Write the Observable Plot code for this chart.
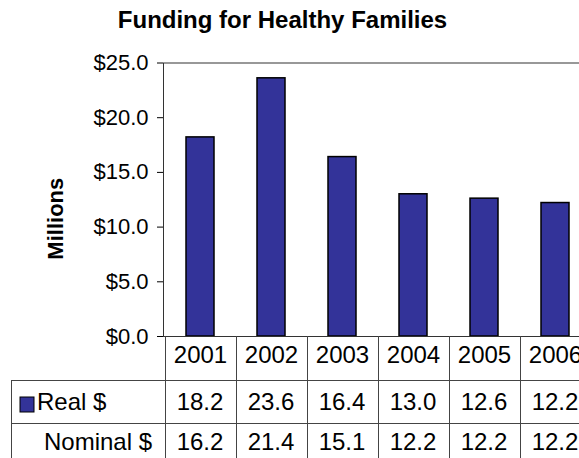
<!DOCTYPE html>
<html><head><meta charset="utf-8">
<script src="https://cdn.jsdelivr.net/npm/d3@7"></script>
<script src="https://cdn.jsdelivr.net/npm/@observablehq/plot@0.6"></script>
<style>
html,body{margin:0;padding:0;background:#fff;overflow:hidden;}
#wrap{position:relative;width:579px;height:458px;overflow:hidden;background:#fff;}
</style></head><body><div id="wrap"></div>
<script>
const title = "Funding for Healthy Families";
const yLabel = "Millions";
const years = ["2001", "2002", "2003", "2004", "2005", "2006"];
const realValues = [18.2, 23.6, 16.4, 13.0, 12.6, 12.2];
const nominalValues = [16.2, 21.4, 15.1, 12.2, 12.2, 12.2];
const seriesNames = ["Real $", "Nominal $"];
const yTicks = [0, 5, 10, 15, 20, 25];

const barColor = "#333399";
const font = "'Liberation Sans', Arial, Helvetica, sans-serif";
const data = years.map((y, i) => ({year: y, real: realValues[i]}));

const chart = Plot.plot({
  width: 592, height: 458,
  marginLeft: 163, marginRight: 0, marginTop: 62.5, marginBottom: 122,
  style: {fontFamily: font, maxWidth: "none", background: "#fff", color: "#000", overflow: "visible"},
  x: {domain: years, paddingInner: 0.6, paddingOuter: 0.3},
  y: {domain: [0, 25]},
  marks: [
    Plot.barY(data, {x: "year", y: "real", fill: barColor, stroke: "#000", strokeWidth: 1.5}),
    Plot.frame({stroke: "#333"}),
    Plot.axisY({ticks: yTicks, tickFormat: d => "$" + d.toFixed(1), tickSize: 6, tickPadding: 9, fontSize: 22, label: null}),
    Plot.axisX({tickSize: 0, tickPadding: 9, fontSize: 24, label: null})
  ]
});
document.getElementById("wrap").appendChild(chart);

// data table below the plot, positioned with Plot's own scales
const xs = chart.scale("x");
const ys = chart.scale("y");
const step = xs.step, bw = xs.bandwidth;
const left = v => xs.apply(v) + bw / 2 - step / 2;
const bounds = years.map(left).concat(left(years[years.length - 1]) + step);
const yZero = ys.apply(0);
const row1 = yZero + 44, row2 = yZero + 87, bottom = 458;
const tableLeft = 11, tableRight = bounds[bounds.length - 1];
const px = v => Math.round(v) + 0.5;

const svg = d3.select(chart);
const g = svg.append("g").attr("stroke", "#444").attr("stroke-width", 1).attr("fill", "none");
bounds.forEach(b => g.append("line").attr("x1", px(b)).attr("x2", px(b)).attr("y1", yZero).attr("y2", bottom));
[row1, row2].forEach(r => g.append("line").attr("x1", tableLeft).attr("x2", tableRight).attr("y1", px(r)).attr("y2", px(r)));
g.append("line").attr("x1", px(tableLeft)).attr("x2", px(tableLeft)).attr("y1", row1).attr("y2", bottom);

const t = svg.append("g").attr("font-family", font).attr("fill", "#000").attr("text-anchor", "start");
[realValues, nominalValues].forEach((vals, r) => {
  vals.forEach((v, i) => {
    t.append("text").attr("x", xs.apply(years[i]) + bw / 2).attr("y", r === 0 ? 409.5 : 450)
      .attr("text-anchor", "middle").attr("font-size", 24).text(v.toFixed(1));
  });
});
svg.append("rect").attr("x", 20).attr("y", 397).attr("width", 14).attr("height", 15)
  .attr("fill", barColor).attr("stroke", "#000").attr("stroke-width", 1);
t.append("text").attr("x", 37).attr("y", 409.5).attr("text-anchor", "start").attr("font-size", 24).text(seriesNames[0]);
t.append("text").attr("x", 152).attr("y", 450).attr("text-anchor", "end").attr("font-size", 24).text(seriesNames[1]);

t.append("text").attr("x", 282.5).attr("y", 28).attr("text-anchor", "middle")
  .attr("font-size", 24).attr("font-weight", "bold").text(title);
t.append("text").attr("transform", "translate(63.3,218.7) rotate(-90)").attr("text-anchor", "middle")
  .attr("font-size", 22).attr("font-weight", "bold").text(yLabel);
</script></body></html>
